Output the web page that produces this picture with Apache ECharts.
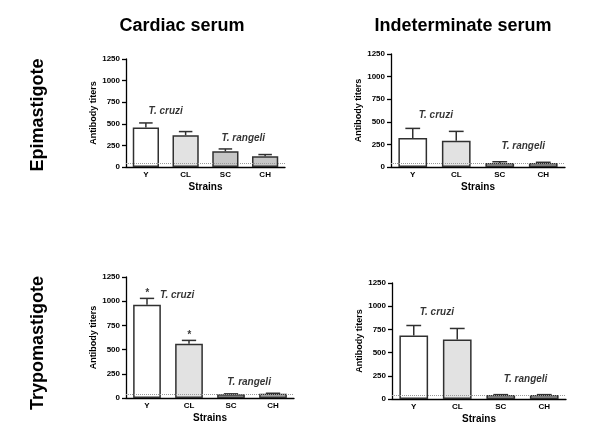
<!DOCTYPE html>
<html>
<head>
<meta charset="utf-8">
<script src="https://cdn.jsdelivr.net/npm/echarts@6/dist/echarts.min.js"></script>
<style>html,body{margin:0;padding:0;background:#fff}#c{width:600px;height:433px}</style>
</head>
<body>
<div id="c"></div>
<script>
// ---- data ----
const strains = ['Y', 'CL', 'SC', 'CH'];
const yTicks = [0, 250, 500, 750, 1000, 1250];
const cutoff = 40;

const epiCardiacMean = [457, 368, 182, 124];
const epiCardiacSem  = [53, 42, 27, 20];
const epiIndetMean   = [320, 291, 44, 44];
const epiIndetSem    = [107, 103, 14, 8];
const tryCardiacMean = [964, 561, 38, 44];
const tryCardiacSem  = [65, 34, 5, 5];
const tryIndetMean   = [684, 641, 43, 43];
const tryIndetSem    = [108, 119, 4, 4];

const colTitles = ['Cardiac serum', 'Indeterminate serum'];
const rowTitles = ['Epimastigote', 'Trypomastigote'];

// annotation texts placed in data coordinates [strain position, titer, text]
const notesP1 = [[0.5, 646, 'T. cruzi'], [2.45, 336, 'T. rangeli']];
const notesP2 = [[0.53, 567, 'T. cruzi'], [2.54, 228, 'T. rangeli']];
const notesP3 = [[0.72, 1057, 'T. cruzi'], [2.43, 165, 'T. rangeli']];
const notesP4 = [[0.53, 936, 'T. cruzi'], [2.57, 216, 'T. rangeli']];
const starsP3 = [[0, 1085, '*'], [1, 647, '*']];

// ---- layout ----
const FONT = 'Liberation Sans, Arial, sans-serif';
const grids = [
  {left: 126, top: 59, width: 159, height: 108},
  {left: 391, top: 54, width: 174, height: 113},
  {left: 126, top: 277, width: 168, height: 121},
  {left: 392, top: 283, width: 174, height: 116}
];
const panels = [
  {mean: epiCardiacMean, sem: epiCardiacSem, notes: notesP1, stars: []},
  {mean: epiIndetMean, sem: epiIndetSem, notes: notesP2, stars: []},
  {mean: tryCardiacMean, sem: tryCardiacSem, notes: notesP3, stars: starsP3},
  {mean: tryIndetMean, sem: tryIndetSem, notes: notesP4, stars: []}
];
const barColors = ['#ffffff', '#e2e2e2', '#c6c6c6', '#c6c6c6'];
const ink = '#303030';

const xAxis = [], yAxis = [], series = [];
panels.forEach((p, i) => {
  xAxis.push({
    type: 'category', gridIndex: i, data: strains,
    name: 'Strains', nameLocation: 'middle', nameGap: 15,
    nameTextStyle: {fontFamily: FONT, fontWeight: 'bold', fontSize: 10, color: '#000'},
    axisLine: {onZero: false, lineStyle: {color: '#000', width: 1.3}},
    axisTick: {show: false},
    axisLabel: {fontFamily: FONT, fontWeight: 'bold', fontSize: 8, color: '#000', margin: 4}
  });
  xAxis.push({
    type: 'value', gridIndex: i, min: -0.5, max: 3.5, show: false
  });
  yAxis.push({
    type: 'value', gridIndex: i, min: yTicks[0], max: yTicks[yTicks.length - 1], interval: 250,
    name: 'Antibody titers', nameLocation: 'middle', nameGap: 24,
    nameTextStyle: {fontFamily: FONT, fontWeight: 'bold', fontSize: 9, color: '#000'},
    axisLine: {show: true, onZero: false, lineStyle: {color: '#000', width: 1.3}},
    axisTick: {show: true, length: 4, lineStyle: {color: '#000', width: 1.3}},
    axisLabel: {fontFamily: FONT, fontWeight: 'bold', fontSize: 8, color: '#000', margin: 6,
                formatter: (v) => String(v)},
    splitLine: {show: false}
  });
  series.push({
    type: 'bar', xAxisIndex: 2 * i, yAxisIndex: i, barWidth: '66%',
    data: p.mean.map((v, k) => ({value: v, itemStyle: {color: barColors[k]}})),
    itemStyle: {borderColor: ink, borderWidth: 1.5},
    markLine: {
      silent: true, symbol: 'none', label: {show: false},
      lineStyle: {type: 'dotted', color: '#999', width: 1},
      data: [{yAxis: cutoff}]
    },
    z: 2
  });
  series.push({
    type: 'custom', xAxisIndex: 2 * i, yAxisIndex: i, z: 3,
    data: p.mean.map((v, k) => [k, v, v + p.sem[k]]),
    renderItem: function (params, api) {
      const x = api.value(0);
      const a = api.coord([x, api.value(1)]);
      const b = api.coord([x, api.value(2)]);
      const hw = api.size([1, 0])[0] * 0.17;
      const st = {stroke: ink, lineWidth: 1.5};
      return {type: 'group', children: [
        {type: 'line', shape: {x1: a[0], y1: a[1], x2: b[0], y2: b[1]}, style: st},
        {type: 'line', shape: {x1: b[0] - hw, y1: b[1], x2: b[0] + hw, y2: b[1]}, style: st}
      ]};
    }
  });
  series.push({
    type: 'scatter', xAxisIndex: 2 * i + 1, yAxisIndex: i, symbolSize: 0, silent: true,
    data: p.notes.concat(p.stars),
    label: {
      show: true, position: 'inside',
      formatter: (d) => d.data[2],
      fontFamily: FONT, fontWeight: 'bold', fontStyle: 'italic', fontSize: 10, color: '#000'
    },
    z: 4
  });
});

const option = {
  backgroundColor: '#fff',
  animation: false,
  grid: grids,
  xAxis: xAxis,
  yAxis: yAxis,
  series: series,
  title: [
    {text: colTitles[0], left: 177, top: 12, textAlign: 'center',
     textStyle: {fontFamily: FONT, fontWeight: 'bold', fontSize: 18, color: '#000'}},
    {text: colTitles[1], left: 458, top: 12, textAlign: 'center',
     textStyle: {fontFamily: FONT, fontWeight: 'bold', fontSize: 18, color: '#000'}}
  ],
  graphic: [
    {type: 'text', x: 38, y: 115, rotation: Math.PI / 2,
     style: {text: rowTitles[0], font: 'bold 18px ' + FONT, fill: '#000', align: 'center', verticalAlign: 'middle'}},
    {type: 'text', x: 38, y: 343, rotation: Math.PI / 2,
     style: {text: rowTitles[1], font: 'bold 18px ' + FONT, fill: '#000', align: 'center', verticalAlign: 'middle'}}
  ]
};

const chart = echarts.init(document.getElementById('c'));
chart.setOption(option);
</script>
</body>
</html>
